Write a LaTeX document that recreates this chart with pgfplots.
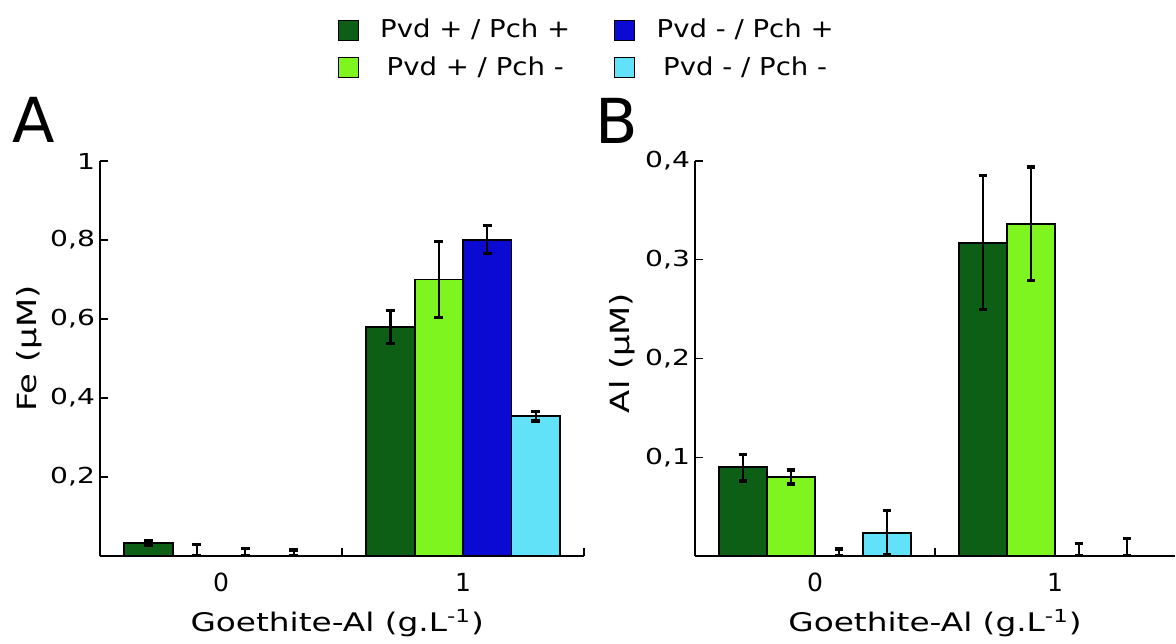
\documentclass[border=0pt]{standalone}
\usepackage{fontspec}
\setmainfont{DejaVu Sans}
\newfontfamily\lblfont[FakeStretch=1.28]{DejaVu Sans}
\newfontfamily\legfont[FakeStretch=1.12]{DejaVu Sans}
\usepackage{pgfplots}
\usepackage{pgfplotstable}
\pgfplotsset{compat=1.18}
\definecolor{cdg}{RGB}{13,95,21}
\definecolor{clg}{RGB}{127,245,31}
\definecolor{cbl}{RGB}{10,10,210}
\definecolor{ccy}{RGB}{98,226,248}

% Panel A (Fe)
\pgfplotstableread{
x y ep em
0 0.033 0.007 0.007
1 0.580 0.042 0.042
}\Adg
\pgfplotstableread{
x y ep em
0 0 0.030 0
1 0.700 0.097 0.097
}\Alg
\pgfplotstableread{
x y ep em
0 0 0.018 0
1 0.800 0.037 0.034
}\Abl
\pgfplotstableread{
x y ep em
0 0 0.015 0
1 0.354 0.012 0.012
}\Acy
% Panel B (Al)
\pgfplotstableread{
x y ep em
0 0.090 0.013 0.014
1 0.317 0.068 0.067
}\Bdg
\pgfplotstableread{
x y ep em
0 0.080 0.007 0.007
1 0.336 0.058 0.057
}\Blg
\pgfplotstableread{
x y ep em
0 0 0.007 0
1 0 0.013 0
}\Bbl
\pgfplotstableread{
x y ep em
0 0.023 0.023 0.022
1 0 0.018 0
}\Bcy

\pgfplotsset{
 panel/.style={
  scale only axis, height=197.5pt,
  axis x line*=bottom, axis y line*=left,
  axis line style={line width=1.4pt, black},
  xmin=-0.5, xmax=1.5, ymin=0,
  ybar, bar width=0.2,
  xticklabels={},
  extra x ticks={0,1}, extra x tick labels={0,1},
  extra x tick style={major tick length=0pt},
  x tick label style={font=\fontsize{12.5}{14}\selectfont, yshift=-5pt},
  y tick label style={font=\lblfont\fontsize{11}{13}\selectfont, xshift=1pt},
  tick align=inside,
  major tick length=4pt,
  tick style={line width=0.7pt, black},
  /pgf/number format/.cd, use comma, assume math mode=true, /pgfplots/.cd,
  xlabel style={font=\lblfont\fontsize{12.8}{14}\selectfont},
  ylabel style={font=\lblfont\fontsize{13.2}{15}\selectfont},
 },
 errb/.style={error bars/.cd, y dir=both, y explicit,
   error bar style={line width=1.1pt, black},
   error mark options={rotate=90, mark size=2.2pt, line width=1.6pt, black}},
}

\begin{document}
\begin{tikzpicture}
\path[use as bounding box] (0,0) rectangle (588pt,321.5pt);

\begin{axis}[panel, at={(50pt,43.5pt)}, anchor=south west, width=242pt,
  xtick={0.5,1.5},
  ymax=1, ytick={0.2,0.4,0.6,0.8,1},
  xlabel={Goethite-Al (g.L\textsuperscript{-1})},
  xlabel style={at={(axis description cs:0.49,0)}, anchor=center, yshift=-33.5pt},
  ylabel={Fe (µM)},
  ylabel style={at={(axis description cs:-0.146,0.525)}, anchor=center},
  legend image code/.code={\draw[#1, line width=0.5pt] (0pt,-5pt) rectangle (10pt,5pt); \path (18.5pt,0pt);},
  legend style={draw=none, fill=none, at={(axis description cs:0.478,1.38)}, anchor=north west,
    font=\legfont\fontsize{12.3}{14}\selectfont, row sep=4pt,
    /tikz/every even column/.append style={column sep=20pt}},
  legend columns=2, transpose legend,
]
\addplot[fill=cdg, draw=black, line width=0.9pt, bar shift=-0.3, errb] table[x=x,y=y,y error plus=ep,y error minus=em]{\Adg};
\addlegendentry{Pvd + / Pch +}
\addplot[fill=clg, draw=black, line width=0.9pt, bar shift=-0.1, errb] table[x=x,y=y,y error plus=ep,y error minus=em]{\Alg};
\addlegendentry{Pvd + / Pch -}
\addplot[fill=cbl, draw=black, line width=0.9pt, bar shift=0.1, errb] table[x=x,y=y,y error plus=ep,y error minus=em]{\Abl};
\addlegendentry{Pvd - / Pch +}
\addplot[fill=ccy, draw=black, line width=0.9pt, bar shift=0.3, errb] table[x=x,y=y,y error plus=ep,y error minus=em]{\Acy};
\addlegendentry{Pvd - / Pch -}
\end{axis}

\begin{axis}[panel, at={(347.5pt,43.5pt)}, anchor=south west, width=240pt,
  xtick={0.5},
  ymax=0.4, ytick={0.1,0.2,0.3,0.4},
  xlabel={Goethite-Al (g.L\textsuperscript{-1})},
  xlabel style={at={(axis description cs:0.5,0)}, anchor=center, yshift=-33.5pt},
  ylabel={Al (µM)},
  ylabel style={at={(axis description cs:-0.152,0.514)}, anchor=center},
]
\addplot[fill=cdg, draw=black, line width=0.9pt, bar shift=-0.3, errb] table[x=x,y=y,y error plus=ep,y error minus=em]{\Bdg};
\addplot[fill=clg, draw=black, line width=0.9pt, bar shift=-0.1, errb] table[x=x,y=y,y error plus=ep,y error minus=em]{\Blg};
\addplot[fill=cbl, draw=black, line width=0.9pt, bar shift=0.1, errb] table[x=x,y=y,y error plus=ep,y error minus=em]{\Bbl};
\addplot[fill=ccy, draw=black, line width=0.9pt, bar shift=0.3, errb] table[x=x,y=y,y error plus=ep,y error minus=em]{\Bcy};
\end{axis}

\node at (17pt,261.5pt) {\fontsize{31}{31}\selectfont A};
\node at (308.5pt,261pt) {\fontsize{31}{31}\selectfont B};
\end{tikzpicture}
\end{document}
